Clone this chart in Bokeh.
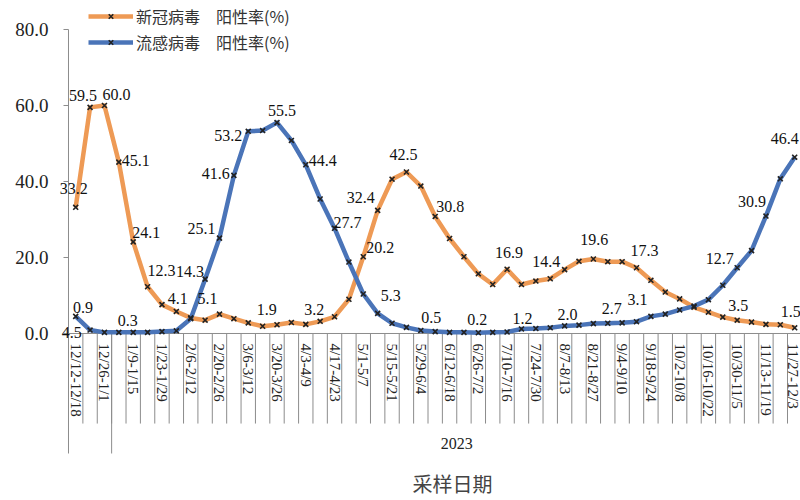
from math import pi
from bokeh.plotting import figure
from bokeh.models import (Range1d, FixedTicker, PrintfTickFormatter, ColumnDataSource,
                          Legend, LegendItem)
from bokeh.core.properties import value
from bokeh.embed import file_html
from bokeh.resources import INLINE

# ---------------- data ----------------
weeks = ["12/12-12/18", "12/19-12/25", "12/26-1/1", "1/2-1/8", "1/9-1/15", "1/16-1/22",
         "1/23-1/29", "1/30-2/5", "2/6-2/12", "2/13-2/19", "2/20-2/26", "2/27-3/5",
         "3/6-3/12", "3/13-3/19", "3/20-3/26", "3/27-4/2", "4/3-4/9", "4/10-4/16",
         "4/17-4/23", "4/24-4/30", "5/1-5/7", "5/8-5/14", "5/15-5/21", "5/22-5/28",
         "5/29-6/4", "6/5-6/11", "6/12-6/18", "6/19-6/25", "6/26-7/2", "7/3-7/9",
         "7/10-7/16", "7/17-7/23", "7/24-7/30", "7/31-8/6", "8/7-8/13", "8/14-8/20",
         "8/21-8/27", "8/28-9/3", "9/4-9/10", "9/11-9/17", "9/18-9/24", "9/25-10/1",
         "10/2-10/8", "10/9-10/15", "10/16-10/22", "10/23-10/29", "10/30-11/5",
         "11/6-11/12", "11/13-11/19", "11/20-11/26", "11/27-12/3"]

covid = [33.2, 59.5, 60.0, 45.1, 24.1, 12.3, 7.6, 5.8, 4.1, 3.5,
         5.1, 3.9, 2.8, 1.9, 2.3, 2.9, 2.4, 3.2, 4.4, 9.0,
         20.2, 32.4, 40.6, 42.5, 38.8, 30.8, 25.0, 20.2, 15.7, 12.9,
         16.9, 12.9, 13.8, 14.4, 16.8, 19.0, 19.6, 18.9, 18.9, 17.3,
         14.0, 10.9, 9.1, 6.9, 5.6, 4.3, 3.5, 3.0, 2.4, 2.3, 1.5]

flu = [4.5, 0.9, 0.3, 0.3, 0.3, 0.3, 0.5, 0.7, 3.9, 14.3,
       25.1, 41.6, 53.2, 53.4, 55.5, 50.8, 44.4, 35.4, 27.7, 18.8,
       10.4, 5.3, 2.7, 1.6, 0.8, 0.5, 0.3, 0.3, 0.2, 0.3,
       0.4, 1.2, 1.3, 1.5, 2.0, 2.2, 2.6, 2.7, 2.8, 3.1,
       4.5, 5.1, 6.2, 7.2, 8.9, 12.7, 17.3, 21.8, 30.9, 40.7, 46.4]

series_names = ["新冠病毒\u3000阳性率(%)", "流感病毒\u3000阳性率(%)"]
year_label = "2023"
year_first_week = 3          # 1/2-1/8 starts the 2023 group
x_title = "采样日期"
y_ticks = [0, 20, 40, 60, 80]

# which points carry a data label (index into weeks)
covid_label_idx = [0, 1, 2, 3, 4, 5, 8, 10, 13, 17, 20, 21, 23, 25, 30, 33, 36, 39, 46, 50]
flu_label_idx = [0, 1, 3, 9, 10, 11, 12, 14, 16, 18, 21, 25, 28, 31, 34, 37, 39, 45, 48, 50]

# ---------------- style (label placement in screen px) ----------------
covid_off = [(-2, -19), (-7, -12), (12, -11), (17, -2), (13, -9), (14, -16), (-13, -19),
             (-12, -16), (4, -17), (-6, -12), (17, -9), (-17, -13), (-3, -17), (15, -10),
             (2, -17), (-4, -17), (1, -20), (8, -17), (1, -15), (-4, -16)]
flu_off = [(-4, 16), (-7, -23), (9, -12), (-15, -8), (-18, -10), (-18, -2), (-20, 4),
           (5, -12), (17, -4), (13, -6), (13, -18), (-4, -14), (-1, -13), (1, -10),
           (3, -11), (4, -15), (1, -22), (-3, -27), (-14, -15), (-10, -19)]

ORANGE = "#EE9A55"
BLUE = "#4A74B8"
GRID = "#8c8c8c"
SERIF = "Liberation Serif"
CJK = "Noto Sans CJK SC"

Y_TOP, Y_BOTTOM = 87.63, -43.95      # frame covers the whole canvas height
X_START, X_END = -1.404, 50.404
CAT_DEPTH, GROUP_DEPTH = -23.7, -31.58
TICK_LEN = 5 / 14.38                 # 5 px in category units

n = len(weeks)
xs = list(range(n))

p = figure(width=800, height=500, output_backend="svg", toolbar_location=None,
           x_range=Range1d(X_START, X_END), y_range=Range1d(Y_BOTTOM, Y_TOP),
           x_axis_location=None, min_border_left=55, min_border_right=0,
           min_border_top=0, min_border_bottom=0)
p.outline_line_color = None
p.xgrid.visible = False
p.ygrid.visible = False
p.background_fill_color = "white"
p.border_fill_color = "white"

ax = p.yaxis[0]
ax.ticker = FixedTicker(ticks=y_ticks)
ax.formatter = PrintfTickFormatter(format="%.1f")
ax.major_label_text_font = SERIF
ax.major_label_text_font_size = "19px"
ax.major_label_text_color = "#222222"
ax.major_tick_out = 0
ax.major_tick_in = 0
ax.minor_tick_out = 0
ax.minor_tick_in = 0
ax.axis_line_color = None
ax.major_tick_line_color = None
ax.major_label_standoff = 7

# value axis line (from the top tick down through the category label area) and its ticks
p.segment(x0=[-0.5], y0=[y_ticks[-1]], x1=[-0.5], y1=[GROUP_DEPTH],
          line_color=GRID, line_width=1)
p.segment(x0=[-0.5 - TICK_LEN] * len(y_ticks), y0=y_ticks, x1=[-0.5] * len(y_ticks),
          y1=y_ticks, line_color=GRID, line_width=1)

# category axis drawn inside the frame below zero
bounds = [i - 0.5 for i in range(1, n + 1)]
p.segment(x0=bounds, y0=[0] * len(bounds), x1=bounds, y1=[CAT_DEPTH] * len(bounds),
          line_color=GRID, line_width=1)
p.segment(x0=[year_first_week - 0.5], y0=[0], x1=[year_first_week - 0.5], y1=[GROUP_DEPTH],
          line_color=GRID, line_width=1)
p.segment(x0=[-0.5], y0=[0], x1=[n - 0.5], y1=[0], line_color=GRID, line_width=1)

shown = list(range(0, n, 2))
p.text(x=shown, y=[0] * len(shown), text=[weeks[i] for i in shown], angle=-pi / 2,
       y_offset=10, x_offset=[0] * (len(shown) - 1) + [-2], text_align="left",
       text_baseline="middle",
       text_font=value(SERIF), text_font_size="15px", text_color="#222222")
p.text(x=[(year_first_week - 0.5 + n - 0.5) / 2], y=[0], text=[year_label], y_offset=110,
       text_align="center", text_baseline="middle", text_font=value(SERIF),
       text_font_size="16px", text_color="#222222")
p.text(x=[26.2], y=[0], text=[x_title], y_offset=150,
       text_align="center", text_baseline="middle", text_font=value(CJK),
       text_font_size="20px", text_color="#444444")

# series
rc_line = p.line(xs, covid, line_color=ORANGE, line_width=4.5, line_join="round")
fl_line = p.line(xs, flu, line_color=BLUE, line_width=4.5, line_join="round")
rc_pts = p.scatter(xs, covid, marker="x", size=7, line_color="#222222", line_width=1.6)
fl_pts = p.scatter(xs, flu, marker="x", size=7, line_color="#222222", line_width=1.6)

def label_source(idx, vals, offs):
    return ColumnDataSource(dict(
        x=idx, y=[vals[i] for i in idx], t=["%.1f" % vals[i] for i in idx],
        dx=[o[0] for o in offs], dy=[o[1] for o in offs]))

for src in (label_source(covid_label_idx, covid, covid_off),
            label_source(flu_label_idx, flu, flu_off)):
    p.text(x="x", y="y", text="t", x_offset="dx", y_offset="dy", source=src,
           text_align="center", text_baseline="middle", text_font=value(SERIF),
           text_font_size="16px", text_color="#111111")

legend = Legend(items=[LegendItem(label=series_names[0], renderers=[rc_line, rc_pts]),
                       LegendItem(label=series_names[1], renderers=[fl_line, fl_pts])],
                location=(33, 446), orientation="vertical", glyph_width=45, glyph_height=16,
                label_text_font=CJK, label_text_font_size="16px", label_text_color="#333333",
                spacing=2, padding=0, margin=0, label_standoff=3,
                border_line_color=None, background_fill_alpha=0)
p.add_layout(legend)

open("out.html", "w").write(file_html(p, INLINE))
